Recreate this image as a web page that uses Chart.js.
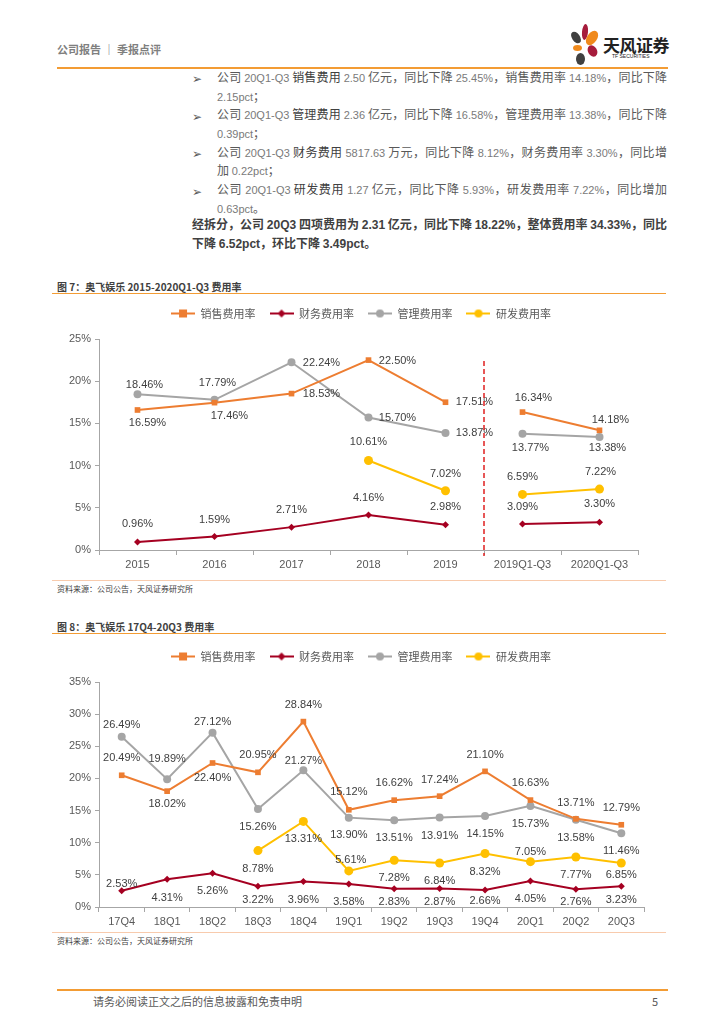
<!DOCTYPE html>
<html>
<head>
<meta charset="utf-8">
<script src="https://cdn.jsdelivr.net/npm/chart.js@4.4.1/dist/chart.umd.min.js"></script>
<style>
  body { margin: 0; width: 724px; height: 1024px; position: relative; overflow: hidden; background: #fff;
         font-family: "Noto Sans CJK SC", "Noto Sans", sans-serif; color: #595959; }
  .abs { position: absolute; }
  .hline { position: absolute; height: 0; }
  .txt { position: absolute; left: 217px; width: 450px; font-size: 12px; line-height: 18.7px; color: #595959; }
  .txt div { white-space: nowrap; height: 18.7px; overflow: visible; }
  .full { text-align: justify; text-align-last: justify; }
  .n { font-family: "Liberation Sans Narrow", "Liberation Sans", Arial, sans-serif; font-size: 11px; color: #7a7a7a; line-height: 1; }
  .bullet { position: absolute; left: 192px; font-size: 12px; color: #595959; }
  .para { position: absolute; left: 192px; width: 475px; font-size: 12px; line-height: 19px; font-weight: bold; color: #404040; }
  .para div { white-space: nowrap; height: 19px; }
  .para .n { color: #404040; font-size: 12px; }
  .figtitle { position: absolute; left: 57px; font-size: 10px; font-weight: bold; color: #404040; }
  .source { position: absolute; left: 57px; font-size: 8px; color: #404040; }
  .chartbox { position: absolute; left: 52px; width: 614px; }
  .petal { position: absolute; border-radius: 50%; }
</style>
</head>
<body>

<!-- header -->
<div class="abs" style="left:57px;top:41px;font-size:11px;font-weight:bold;color:#7f7f7f;">公司报告 ｜ 季报点评</div>
<div class="hline" style="left:57px;top:67px;width:611px;border-top:2.5px solid #F39C34;"></div>

<!-- logo -->
<div class="petal" style="left:582px;top:24px;width:6px;height:16px;background:#A61C3C;transform:rotate(5deg);"></div>
<div class="petal" style="left:587px;top:30px;width:10px;height:16px;background:#F08A1C;transform:rotate(35deg);"></div>
<div class="petal" style="left:572px;top:31px;width:8px;height:13px;background:#404040;transform:rotate(-35deg);"></div>
<div class="petal" style="left:573px;top:45px;width:9px;height:6px;background:#F08A1C;"></div>
<div class="petal" style="left:588px;top:45px;width:9px;height:12px;background:#A61C3C;transform:rotate(-30deg);"></div>
<div class="petal" style="left:576px;top:53px;width:9px;height:12px;background:#404040;"></div>
<div class="abs" style="left:603px;top:32px;font-size:17px;font-weight:bold;color:#222;letter-spacing:-0.5px;">天风证券</div>
<div class="abs" style="left:612px;top:53px;font-size:5px;color:#222;font-family:'Liberation Sans',Arial;">TF SECURITIES</div>

<!-- text block -->
<div class="bullet" style="top:69px;">➢</div>
<div class="bullet" style="top:107px;">➢</div>
<div class="bullet" style="top:144px;">➢</div>
<div class="bullet" style="top:182px;">➢</div>
<div class="txt" style="top:68px;">
  <div class="full">公司 <span class="n">20Q1-Q3</span> <span style="color:#404040">销售费用</span> <span class="n">2.50</span> 亿元，同比下降 <span class="n">25.45%</span>，销售费用率 <span class="n">14.18%</span>，同比下降</div>
  <div><span class="n">2.15pct</span>；</div>
  <div class="full">公司 <span class="n">20Q1-Q3</span> <span style="color:#404040">管理费用</span> <span class="n">2.36</span> 亿元，同比下降 <span class="n">16.58%</span>，管理费用率 <span class="n">13.38%</span>，同比下降</div>
  <div><span class="n">0.39pct</span>；</div>
  <div class="full">公司 <span class="n">20Q1-Q3</span> <span style="color:#404040">财务费用</span> <span class="n">5817.63</span> 万元，同比下降 <span class="n">8.12%</span>，财务费用率 <span class="n">3.30%</span>，同比增</div>
  <div>加 <span class="n">0.22pct</span>；</div>
  <div class="full">公司 <span class="n">20Q1-Q3</span> <span style="color:#404040">研发费用</span> <span class="n">1.27</span> 亿元，同比下降 <span class="n">5.93%</span>，研发费用率 <span class="n">7.22%</span>，同比增加</div>
  <div><span class="n">0.63pct</span>。</div>
</div>
<div class="para" style="top:214px;">
  <div class="full">经拆分，公司 <span class="n">20Q3</span> 四项费用为 <span class="n">2.31</span> 亿元，同比下降 <span class="n">18.22%</span>，整体费用率 <span class="n">34.33%</span>，同比</div>
  <div>下降 <span class="n">6.52pct</span>，环比下降 <span class="n">3.49pct</span>。</div>
</div>

<!-- figure 7 -->
<div class="figtitle" style="top:279px;">图 7：奥飞娱乐 2015-2020Q1-Q3 费用率</div>
<div class="hline" style="left:52px;top:293px;width:614px;border-top:1.5px solid #F39C34;"></div>
<div class="chartbox" style="top:292px;height:282px;"><canvas id="year-chart"></canvas></div>
<div class="hline" style="left:52px;top:580px;width:614px;border-top:1px solid #F8CBAD;"></div>
<div class="source" style="top:583px;">资料来源：公司公告，天风证券研究所</div>

<!-- figure 8 -->
<div class="figtitle" style="top:619px;">图 8：奥飞娱乐 17Q4-20Q3 费用率</div>
<div class="hline" style="left:52px;top:633px;width:614px;border-top:1.5px solid #F39C34;"></div>
<div class="chartbox" style="top:635px;height:296px;"><canvas id="quarter-chart"></canvas></div>
<div class="hline" style="left:52px;top:932px;width:614px;border-top:1px solid #F8CBAD;"></div>
<div class="source" style="top:935px;">资料来源：公司公告，天风证券研究所</div>

<!-- footer -->
<div class="hline" style="left:57px;top:989px;width:611px;border-top:2.5px solid #F39C34;"></div>
<div class="abs" style="left:93px;top:993px;font-size:11px;color:#595959;">请务必阅读正文之后的信息披露和免责申明</div>
<div class="abs" style="left:652px;top:993px;font-size:11px;color:#595959;">5</div>

<script>
// 系列名称
const seriesNames = ["销售费用率", "财务费用率", "管理费用率", "研发费用率"];

// 图7 年度数据
const yearLabels = ["2015", "2016", "2017", "2018", "2019", "2019Q1-Q3", "2020Q1-Q3"];
const yearSales = [16.59, 17.46, 18.53, 22.5, 17.51, 16.34, 14.18];
const yearFinance = [0.96, 1.59, 2.71, 4.16, 2.98, 3.09, 3.3];
const yearAdmin = [18.46, 17.79, 22.24, 15.7, 13.87, 13.77, 13.38];
const yearRnd = [null, null, null, 10.61, 7.02, 6.59, 7.22];
const yearTicks = [0, 5, 10, 15, 20, 25];

// 图8 季度数据
const quarterLabels = ["17Q4", "18Q1", "18Q2", "18Q3", "18Q4", "19Q1", "19Q2", "19Q3", "19Q4", "20Q1", "20Q2", "20Q3"];
const quarterSales = [20.49, 18.02, 22.4, 20.95, 28.84, 15.12, 16.62, 17.24, 21.1, 16.63, 13.71, 12.79];
const quarterFinance = [2.53, 4.31, 5.26, 3.22, 3.96, 3.58, 2.83, 2.87, 2.66, 4.05, 2.76, 3.23];
const quarterAdmin = [26.49, 19.89, 27.12, 15.26, 21.27, 13.9, 13.51, 13.91, 14.15, 15.73, 13.58, 11.46];
const quarterRnd = [null, null, null, 8.78, 13.31, 5.61, 7.28, 6.84, 8.32, 7.05, 7.77, 6.85];
const quarterTicks = [0, 5, 10, 15, 20, 25, 30, 35];

// 数据标签偏移 (dx, dy)，按系列顺序
const yearLabelPos = [
  [[10, 13], [15, 13], [30, 0], [29, 1], [29, 0], [11, -14], [11, -10]],
  [[0, -18], [0, -17], [0, -17], [0, -17], [0, -18], [0, -17], [0, -18]],
  [[7, -9], [3, -17], [30, 1], [29, 0], [29, 0], [8, 14], [8, 11]],
  [null, null, null, [0, -18], [0, -17], [0, -17], [1, -17]],
];
const quarterLabelPos = [
  [[0, -17], [0, 13], [0, 15], [0, -17], [0, -17], [0, -18], [0, -17], [0, -16], [0, -16], [0, -17], [0, -16], [0, -17]],
  [[0, -7], [0, 19], [0, 18], [0, 14], [0, 18], [0, 18], [0, 13], [0, 13], [0, 11], [0, 18], [0, 13], [0, 14]],
  [[0, -12], [0, -20], [0, -11], [0, 18], [0, -9], [0, 17], [0, 18], [0, 18], [0, 18], [0, 18], [0, 18], [0, 18]],
  [null, null, null, [0, 18], [0, 18], [2, -11], [0, 18], [0, 18], [0, 18], [0, -10], [0, 18], [0, 12]],
];

const seriesColors = ["#ED7D31", "#A50021", "#A5A5A5", "#FFC000"];
const seriesShapes = ["rect", "rectRot", "circle", "circle"];
const seriesRadius = [4, 3.5, 4, 4.5];

// 图例图标: 线 + 标记
function legendIcon(color, shape) {
  const c = document.createElement("canvas");
  c.width = 24;
  c.height = 10;
  const g = c.getContext("2d");
  g.strokeStyle = color;
  g.fillStyle = color;
  g.lineWidth = 2;
  g.beginPath();
  g.moveTo(0, 5);
  g.lineTo(24, 5);
  g.stroke();
  if (shape === "rect") {
    g.fillRect(8, 1, 8, 8);
  } else if (shape === "rectRot") {
    g.beginPath();
    g.moveTo(12, 1); g.lineTo(16, 5); g.lineTo(12, 9); g.lineTo(8, 5);
    g.closePath();
    g.fill();
  } else {
    g.beginPath();
    g.arc(12, 5, 4, 0, Math.PI * 2);
    g.fill();
  }
  return c;
}
const legendIcons = seriesColors.map((c, i) => legendIcon(c, seriesShapes[i]));

// 数据标签插件
const pointLabels = {
  id: "pointLabels",
  afterDatasetsDraw(chart, args, opts) {
    const ctx = chart.ctx;
    ctx.save();
    ctx.font = "11px 'Liberation Sans', Arial, sans-serif";
    ctx.fillStyle = "#404040";
    ctx.textAlign = "center";
    ctx.textBaseline = "middle";
    chart.data.datasets.forEach((ds, di) => {
      const meta = chart.getDatasetMeta(di);
      ds.data.forEach((v, i) => {
        if (v === null) return;
        const pt = meta.data[i];
        const off = (opts.offsets[di] && opts.offsets[di][i]) || [0, -17];
        ctx.fillText(v.toFixed(2) + "%", pt.x + off[0], pt.y + off[1]);
      });
    });
    ctx.restore();
  },
};

// 红色虚线分隔 (年度 / 前三季度)
const splitLine = {
  id: "splitLine",
  afterDatasetsDraw(chart, args, opts) {
    if (opts.after === null || opts.after === undefined) return;
    const x = chart.scales.x;
    const y = chart.scales.y;
    const px = (x.getPixelForValue(opts.after) + x.getPixelForValue(opts.after + 1)) / 2;
    const ctx = chart.ctx;
    ctx.save();
    ctx.strokeStyle = "#E02020";
    ctx.lineWidth = 1.5;
    ctx.setLineDash([5, 3]);
    ctx.beginPath();
    ctx.moveTo(px, y.getPixelForValue(opts.top));
    ctx.lineTo(px, chart.chartArea.bottom + 6);
    ctx.stroke();
    ctx.restore();
  },
};

// 图例和绘图区之间留空, 图例整体右移
const legendGap = {
  id: "legendGap",
  beforeInit(chart) {
    const fit = chart.legend.fit;
    chart.legend.fit = function () {
      fit.bind(chart.legend)();
      this.height += 10;
    };
  },
  afterLayout(chart, args, opts) {
    chart.legend.left += opts.shift;
    chart.legend.right += opts.shift;
  },
};

makeDatasets = (lists, breakAfter) => {
  return lists.map((data, i) => ({
    label: seriesNames[i],
    data: data,
    borderColor: seriesColors[i],
    backgroundColor: seriesColors[i],
    borderWidth: 2,
    pointStyle: seriesShapes[i],
    pointRadius: seriesRadius[i],
    pointBorderWidth: 0,
    tension: 0,
    segment: {
      borderColor: (ctx) => (breakAfter !== null && ctx.p0DataIndex === breakAfter ? "rgba(0,0,0,0)" : undefined),
    },
  }));
};

makeChart = (canvasId, labels, lists, ticks, offsets, breakAfter, padRight, legendShift) => {
  const ctx = document.getElementById(canvasId).getContext("2d");
  return new Chart(ctx, {
    type: "line",
    data: {
      labels: labels,
      datasets: makeDatasets(lists, breakAfter),
    },
    options: {
      animation: false,
      responsive: true,
      maintainAspectRatio: false,
      layout: { padding: { left: 0, right: padRight, top: 2, bottom: 0 } },
      scales: {
        x: {
          offset: true,
          grid: { display: true, offset: true, drawOnChartArea: false, tickLength: 5, color: "#A6A6A6" },
          border: { color: "#A6A6A6" },
          ticks: { color: "#595959", font: { size: 11, family: "'Liberation Sans', Arial" }, maxRotation: 0, padding: 3 },
          afterFit: (s) => { s.height = 24; },
        },
        y: {
          min: ticks[0],
          max: ticks[ticks.length - 1],
          afterBuildTicks: (s) => { s.ticks = ticks.map((v) => ({ value: v })); },
          grid: { display: true, drawOnChartArea: false, tickLength: 4, color: "#A6A6A6" },
          border: { color: "#A6A6A6" },
          ticks: { color: "#595959", font: { size: 11, family: "'Liberation Sans', Arial" }, padding: 4, callback: (v) => v + "%" },
          afterFit: (s) => { s.width = 47; },
        },
      },
      plugins: {
        tooltip: { enabled: false },
        legend: {
          position: "top",
          labels: {
            usePointStyle: true,
            pointStyleWidth: 24,
            padding: 14,
            color: "#595959",
            font: { size: 11, family: "'Noto Sans CJK SC'" },
            generateLabels: (chart) => {
              const items = Chart.defaults.plugins.legend.labels.generateLabels(chart);
              items.forEach((it, i) => { it.pointStyle = legendIcons[i]; });
              return items;
            },
          },
        },
        pointLabels: { offsets: offsets },
        splitLine: { after: breakAfter, top: 22.4 },
        legendGap: { shift: legendShift },
      },
    },
    plugins: [pointLabels, splitLine, legendGap],
  });
};

makeChart("year-chart", yearLabels, [yearSales, yearFinance, yearAdmin, yearRnd], yearTicks, yearLabelPos, 4, 28, 16);
makeChart("quarter-chart", quarterLabels, [quarterSales, quarterFinance, quarterAdmin, quarterRnd], quarterTicks, quarterLabelPos, null, 22, 13);
</script>
</body>
</html>
